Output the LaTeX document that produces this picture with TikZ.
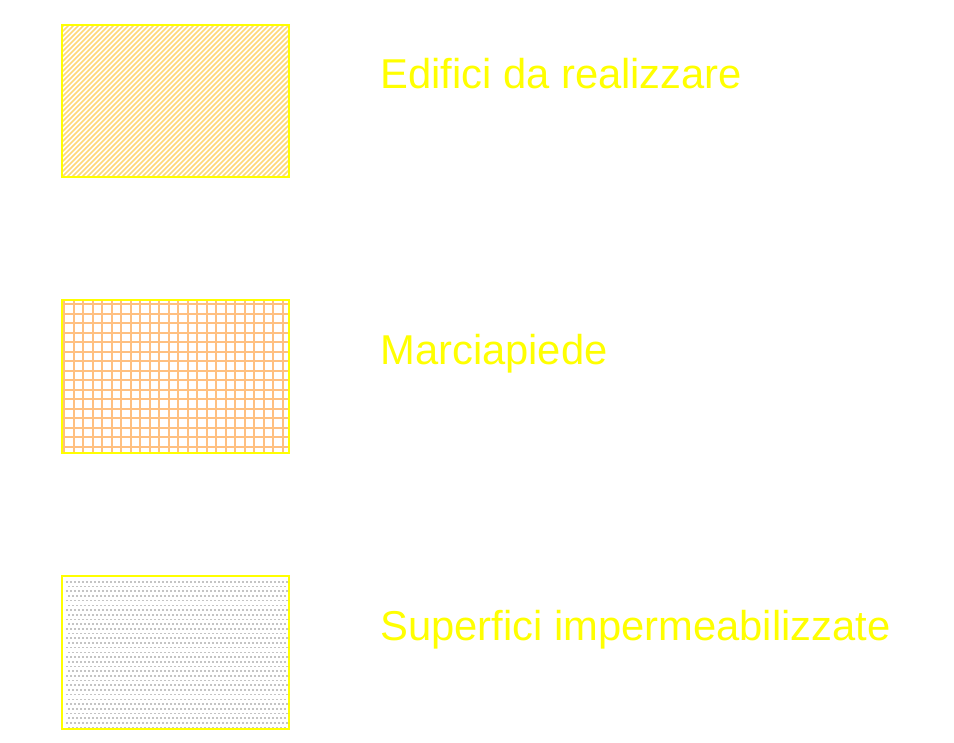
\documentclass[tikz,border=0pt]{standalone}
\usepackage{fontspec}
\setmainfont{Liberation Sans}
\usetikzlibrary{positioning}
\definecolor{legyellow}{HTML}{FFFF00}
\definecolor{hatchorange}{HTML}{FFD878}
\definecolor{gridorange}{HTML}{FFC080}
\definecolor{dotgrey}{HTML}{C4C4C4}

\begin{document}
\begin{tikzpicture}[x=0.75pt,y=-0.75pt,
  legbox/.style={inner sep=0pt,minimum width=170.25pt,minimum height=114pt},
  legframe/.style={draw=legyellow,line width=1.5pt},
  legtext/.style={anchor=base west,inner sep=0pt,text=legyellow,font=\fontsize{31.3}{37}\selectfont}]
\useasboundingbox (0,0) rectangle (954,743);
% legend boxes
\node[legbox] (edifici) at (175.5,101) {};
\node[legbox] (marcia)  at (175.5,376.5) {};
\node[legbox] (superf)  at (175.5,652.5) {};
% diagonal hatch
\begin{scope}
\clip (edifici.south west) rectangle (edifici.north east);
\foreach \i in {-160,-155,...,235}
  \draw[hatchorange,line width=1.3pt] (62+\i,177) -- (214+\i,25);
\end{scope}
% square grid
\begin{scope}
\clip (marcia.south west) rectangle (marcia.north east);
\foreach \i in {0,...,23}
  \draw[gridorange,line width=1.3pt] (64.3+9.5*\i,301) -- (64.3+9.5*\i,452);
\foreach \j in {0,...,15}
  \draw[gridorange,line width=1.3pt] (62,304.3+9.5*\j) -- (289,304.3+9.5*\j);
\end{scope}
% dots
\begin{scope}
\clip (superf.south west) rectangle (superf.north east);
\foreach \j in {0,...,31}{
  \pgfmathsetmacro{\off}{mod(\j,2)*2}
  \foreach \i in {0,...,56}
    \fill[dotgrey] (66+\off+4*\i,581+4.7*\j) rectangle +(1.6,1.6);
}
\end{scope}
\draw[legframe] (edifici.south west) rectangle (edifici.north east);
\draw[legframe] (marcia.south west) rectangle (marcia.north east);
\draw[legframe] (superf.south west) rectangle (superf.north east);
% labels
\node[legtext] (tedifici) at (380,88) {Edifici da realizzare};
\node[legtext] (tmarcia)  at (380,364) {Marciapiede};
\node[legtext] (tsuperf)  at (380,640) {Superfici impermeabilizzate};
\end{tikzpicture}
\end{document}
